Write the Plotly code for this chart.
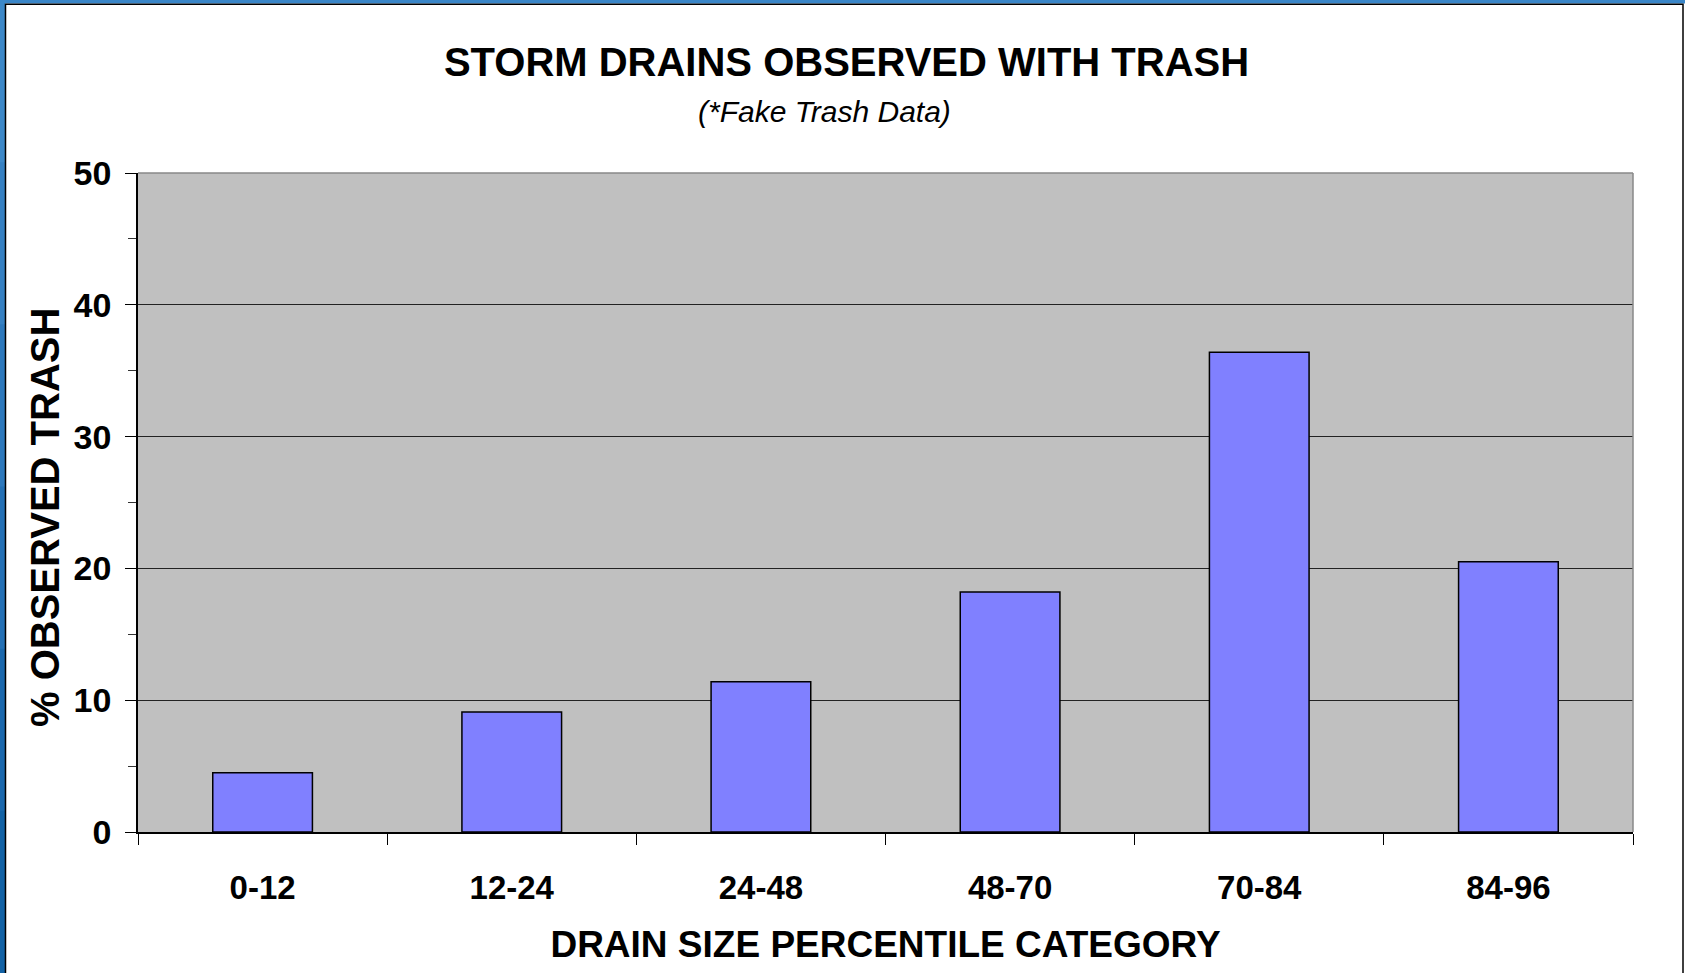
import plotly.graph_objects as go

categories = ["0-12", "12-24", "24-48", "48-70", "70-84", "84-96"]
pct_observed_trash = [4.5, 9.1, 11.4, 18.2, 36.4, 20.5]
y_tick_values = [0, 10, 20, 30, 40, 50]

W, H = 1685, 973
L, R, T, B = 138, 1633, 173, 832  # plot area pixel box


def px(x):
    return (x - L) / (R - L)


def py(y):
    return (B - y) / (B - T)


FONT = "Liberation Sans, Arial, sans-serif"

fig = go.Figure()
fig.add_trace(go.Bar(
    x=categories,
    y=pct_observed_trash,
    width=0.4,
    marker=dict(color="#8080FF", line=dict(color="#000000", width=1.5)),
    showlegend=False,
))

fig.update_layout(
    width=W, height=H,
    margin=dict(l=L, r=W - R, t=T, b=H - B, pad=0),
    paper_bgcolor="#FFFFFF",
    plot_bgcolor="#C0C0C0",
    font=dict(family=FONT, color="#000000"),
    title=dict(
        text="<b>STORM DRAINS OBSERVED WITH TRASH</b>",
        font=dict(family=FONT, size=40, color="#000000"),
        x=846.5 / W, xref="container", xanchor="center",
        y=1 - 62 / H, yref="container", yanchor="middle",
    ),
    bargap=0.6,
)

fig.add_annotation(
    text="<i>(*Fake Trash Data)</i>",
    xref="paper", yref="paper",
    x=px(824), y=py(111), xanchor="center", yanchor="middle",
    showarrow=False,
    font=dict(family=FONT, size=30, color="#000000"),
)

# y-axis title placed as a rotated annotation for exact position
fig.add_annotation(
    text="<b>% OBSERVED TRASH</b>",
    xref="paper", yref="paper",
    x=px(45), y=py(518), xanchor="center", yanchor="middle",
    textangle=-90, showarrow=False,
    font=dict(family=FONT, size=40, color="#000000"),
)

fig.update_xaxes(
    type="category",
    showline=True, linecolor="#000000", linewidth=1.5,
    ticks="outside", tickson="boundaries", ticklen=11, tickwidth=1, tickcolor="#000000",
    tickfont=dict(family=FONT, size=33, color="#000000", weight="bold"),
    ticklabelstandoff=26,
    showgrid=False,
    title=dict(
        text="<b>DRAIN SIZE PERCENTILE CATEGORY</b>",
        font=dict(family=FONT, size=37, color="#000000"),
        standoff=26,
    ),
)

fig.update_yaxes(
    range=[0, 50],
    tickvals=y_tick_values,
    showline=True, linecolor="#000000", linewidth=1.5,
    ticks="outside", ticklen=11, tickwidth=1, tickcolor="#000000",
    minor=dict(dtick=5, ticks="outside", ticklen=8, tickcolor="#333333", showgrid=False),
    tickfont=dict(family=FONT, size=34, color="#000000", weight="bold"),
    ticklabelstandoff=7,
    showgrid=True, gridcolor="#222222", gridwidth=1,
    zeroline=False,
)

shapes = [
    # gray plot-area border (top and right)
    dict(type="line", xref="paper", yref="paper", x0=0, x1=1, y0=1, y1=1,
         line=dict(color="#888888", width=1.5), layer="above"),
    dict(type="line", xref="paper", yref="paper", x0=1, x1=1, y0=0, y1=1,
         line=dict(color="#888888", width=1.5), layer="above"),
    # blue window border (top)
    dict(type="rect", xref="paper", yref="paper", x0=px(-10), x1=px(W + 10), y0=py(3.5), y1=py(-10),
         fillcolor="#3A86C8", line=dict(width=0), layer="above"),
]
# blue window border (left), darkening towards the bottom
left_blues = ["#3C88C8", "#3580C2", "#2C78BC", "#2370B5", "#1A68AD", "#1262A5"]
seg = H / len(left_blues)
for i, c in enumerate(left_blues):
    shapes.append(dict(type="rect", xref="paper", yref="paper",
                       x0=px(-10), x1=px(5), y0=py(seg * (i + 1) + 1), y1=py(seg * i - (10 if i == 0 else 0)),
                       fillcolor=c, line=dict(width=0), layer="above"))
# black frame line
shapes.append(dict(type="rect", xref="paper", yref="paper", x0=px(5.5), x1=px(1683), y0=py(H + 20), y1=py(4.3),
                   fillcolor="rgba(0,0,0,0)", line=dict(color="#000000", width=1.5), layer="above"))
fig.update_layout(shapes=shapes)

fig.write_html(
    "out.html",
    config={"displayModeBar": False},
    post_script="document.body.style.margin='0';document.body.style.overflow='hidden';",
)
